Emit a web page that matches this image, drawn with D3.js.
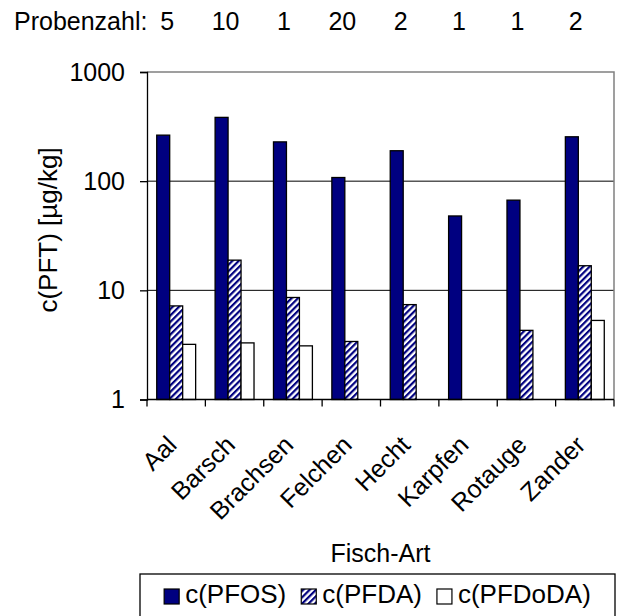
<!DOCTYPE html>
<html>
<head>
<meta charset="utf-8">
<script src="https://cdn.jsdelivr.net/npm/d3@7"></script>
<style>
body { margin: 0; background: #fff; overflow: hidden; }
text { font-family: "Liberation Sans", Arial, sans-serif; fill: #000; }
</style>
</head>
<body>
<div class="chart"></div>
<script>
const fish = ['Aal', 'Barsch', 'Brachsen', 'Felchen', 'Hecht', 'Karpfen', 'Rotauge', 'Zander']
const probenzahl = [5, 10, 1, 20, 2, 1, 1, 2]
const seriesNames = ['c(PFOS)', 'c(PFDA)', 'c(PFDoDA)']
const pfos = [264, 384, 229, 108, 190, 48, 67, 255]
const pfda = [7.2, 18.9, 8.6, 3.4, 7.4, null, 4.3, 16.8]
const pfdoda = [3.2, 3.3, 3.1, null, null, null, null, 5.3]
const yTicks = [1, 10, 100, 1000]

const width = 622
const height = 616
const plot = {left: 147, right: 614, top: 72, bottom: 399.5}
const fontSize = 25

const svg = d3.select('.chart')
  .append('svg')
  .attr('width', width)
  .attr('height', height)
  .style('display', 'block')

// hatch for PFDA
const defs = svg.append('defs')
const pat = defs.append('pattern')
  .attr('id', 'hatch')
  .attr('patternUnits', 'userSpaceOnUse')
  .attr('width', 4.5)
  .attr('height', 4.5)
  .attr('patternTransform', 'rotate(45)')
pat.append('rect').attr('width', 4.5).attr('height', 4.5).attr('fill', '#fff')
pat.append('rect').attr('width', 2.2).attr('height', 4.5).attr('fill', '#000080')

const fills = ['#000080', 'url(#hatch)', '#ffffff']

const x0 = d3.scaleBand()
  .domain(fish)
  .range([plot.left, plot.right])

const x1 = d3.scaleBand()
  .domain(seriesNames)
  .range([0, x0.bandwidth()])
  .paddingOuter(0.75)

const y = d3.scaleLog()
  .domain([1, 1000])
  .range([plot.bottom, plot.top])

// grid lines
svg.append('g')
  .selectAll('line')
  .data([10, 100])
  .join('line')
  .attr('x1', plot.left)
  .attr('x2', plot.right)
  .attr('y1', d => y(d))
  .attr('y2', d => y(d))
  .attr('stroke', '#000')
  .attr('stroke-width', 1)

// top and right border
svg.append('path')
  .attr('d', `M${plot.left},${y(1000)}H${plot.right}V${plot.bottom}`)
  .attr('fill', 'none')
  .attr('stroke', '#808080')
  .attr('stroke-width', 1.5)

// bars
const rows = fish.map((f, i) => ({fish: f, values: [pfos[i], pfda[i], pfdoda[i]]}))

svg.append('g')
  .selectAll('g')
  .data(rows)
  .join('g')
  .attr('transform', d => `translate(${x0(d.fish)},0)`)
  .selectAll('rect')
  .data(d => d.values.map((v, j) => ({key: seriesNames[j], value: v, idx: j})).filter(e => e.value != null))
  .join('rect')
  .attr('x', d => x1(d.key))
  .attr('width', x1.bandwidth())
  .attr('y', d => y(d.value))
  .attr('height', d => y(1) - y(d.value))
  .attr('fill', d => fills[d.idx])
  .attr('stroke', '#000')
  .attr('stroke-width', 1.3)

// y axis
const yAxis = d3.axisLeft(y)
  .tickValues(yTicks)
  .tickFormat(d3.format('d'))
  .tickSize(7)
  .tickPadding(15)

svg.append('g')
  .attr('transform', `translate(${plot.left},0)`)
  .call(yAxis)
  .call(g => g.select('.domain').attr('stroke', '#000').attr('stroke-width', 1.3))
  .call(g => g.selectAll('.tick line').attr('stroke-width', 1.3))
  .call(g => g.selectAll('text').attr('font-size', fontSize).attr('font-family', '"Liberation Sans", Arial, sans-serif'))

// x axis: ticks at category boundaries
const xAxisG = svg.append('g')
xAxisG.append('line')
  .attr('x1', plot.left)
  .attr('x2', plot.right)
  .attr('y1', plot.bottom)
  .attr('y2', plot.bottom)
  .attr('stroke', '#000')
  .attr('stroke-width', 1.3)

xAxisG.selectAll('.tick')
  .data(fish.concat(['end']))
  .join('line')
  .attr('x1', (d, i) => i < fish.length ? x0(d) : plot.right)
  .attr('x2', (d, i) => i < fish.length ? x0(d) : plot.right)
  .attr('y1', plot.bottom)
  .attr('y2', plot.bottom + 7)
  .attr('stroke', '#000')
  .attr('stroke-width', 1.3)

xAxisG.selectAll('text')
  .data(fish)
  .join('text')
  .attr('transform', d => `translate(${x0(d) + x0.bandwidth() / 2 + 2},${plot.bottom + 47}) rotate(-45)`)
  .attr('text-anchor', 'end')
  .attr('font-size', fontSize)
  .text(d => d)

// axis titles
svg.append('text')
  .attr('transform', `translate(57,230) rotate(-90)`)
  .attr('text-anchor', 'middle')
  .attr('font-size', 26)
  .text('c(PFT) [µg/kg]')

svg.append('text')
  .attr('x', (plot.left + plot.right) / 2)
  .attr('y', 562)
  .attr('text-anchor', 'middle')
  .attr('font-size', fontSize)
  .text('Fisch-Art')

// Probenzahl row, numbers sit a little left of each category centre
svg.append('text')
  .attr('x', 14)
  .attr('y', 30)
  .attr('font-size', fontSize)
  .text('Probenzahl:')

svg.append('g')
  .selectAll('text')
  .data(probenzahl)
  .join('text')
  .attr('x', (d, i) => x0(fish[i]) + x0.bandwidth() / 2 - 9)
  .attr('y', 30)
  .attr('text-anchor', 'middle')
  .attr('font-size', fontSize)
  .text(d => d)

// legend (box runs past the bottom edge like in the original)
const legendSize = 26
const legend = svg.append('g')
legend.append('rect')
  .attr('x', 140)
  .attr('y', 574)
  .attr('width', 475)
  .attr('height', 46)
  .attr('fill', '#fff')
  .attr('stroke', '#000')
  .attr('stroke-width', 1.3)

const items = legend.append('g')
let cx = 0
seriesNames.forEach((name, i) => {
  const it = items.append('g').attr('transform', `translate(${cx},0)`)
  it.append('rect')
    .attr('x', 0)
    .attr('y', -14)
    .attr('width', 15)
    .attr('height', 15)
    .attr('fill', fills[i])
    .attr('stroke', '#000')
    .attr('stroke-width', 1.2)
  const t = it.append('text')
    .attr('x', 21)
    .attr('y', 0)
    .attr('font-size', legendSize)
    .text(name)
  cx += 21 + t.node().getComputedTextLength() + 15
})
const itemsW = cx - 15
items.attr('transform', `translate(${140 + (475 - itemsW) / 2},603)`)
</script>
</body>
</html>
